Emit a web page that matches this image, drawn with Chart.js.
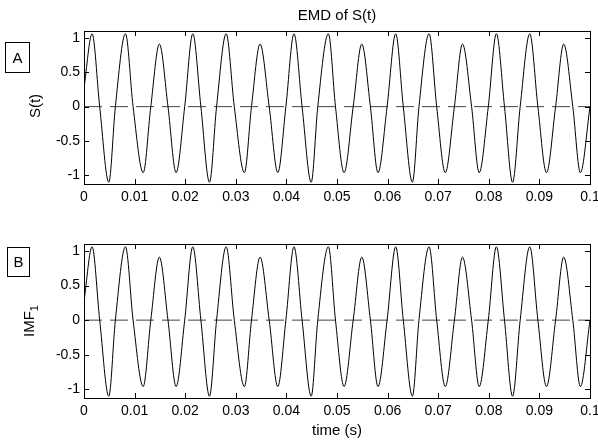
<!DOCTYPE html>
<html>
<head>
<meta charset="utf-8">
<script src="https://cdn.jsdelivr.net/npm/chart.js@4"></script>
<style>
  body { margin: 0; background: #fff; }
  #wrap { position: relative; width: 598px; height: 444px; background: #fff;
          font-family: "Liberation Sans", Arial, sans-serif; color: #000; }
  canvas { position: absolute; left: 0; top: 0; }
  .lbl { position: absolute; font-size: 15px; line-height: 18px; white-space: nowrap; }
  .rot { transform: translate(-50%, -50%) rotate(-90deg); }
  .box { position: absolute; border: 1px solid #000; font-size: 15px; text-align: center; box-sizing: border-box; }
</style>
</head>
<body>
<div id="wrap">
  <canvas id="chartS" width="598" height="444"></canvas>
  <canvas id="chartImf" width="598" height="444"></canvas>
  <div class="lbl" style="left:237px; top:6px; width:200px; text-align:center;">EMD of S(t)</div>
  <div class="lbl" style="left:237px; top:421px; width:200px; text-align:center;">time (s)</div>
  <div class="lbl rot" style="left:35px; top:106px;">S(t)</div>
  <div class="lbl rot" style="left:31px; top:321px;">IMF<sub style="font-size:11px;">1</sub></div>
  <div class="box" style="left:5px; top:42px; width:25px; height:31px; line-height:29px;">A</div>
  <div class="box" style="left:7px; top:247px; width:23px; height:30px; line-height:28px;">B</div>
</div>
<script>
// time axis (s) - extrema and zero crossings
const timeSec = [
  0,
  0.0016, 0.0031, 0.0049, 0.0062, 0.0082, 0.0097, 0.0117, 0.0132, 0.0149, 0.0166, 0.0182, 0.0199,
  0.0215, 0.0231, 0.0248, 0.0262, 0.0281, 0.0297, 0.0317, 0.0331, 0.0348, 0.0366, 0.0383, 0.0399,
  0.0415, 0.0431, 0.0449, 0.0462, 0.0483, 0.0497, 0.0514, 0.0532, 0.0549, 0.0566, 0.0581, 0.0599,
  0.0616, 0.0631, 0.0649, 0.0662, 0.0682, 0.0697, 0.0714, 0.0732, 0.0748, 0.0766, 0.0781, 0.0799,
  0.0815, 0.0831, 0.0847, 0.0862, 0.0881, 0.0897, 0.0914, 0.0932, 0.0948, 0.0966, 0.0981, 0.1
];

// S(t)
const signalS = [
  0.27,
  1.06, 0, -1.10, 0, 1.06, 0, -0.96, 0, 0.91, 0, -0.96, 0,
  1.06, 0, -1.10, 0, 1.06, 0, -0.96, 0, 0.91, 0, -0.96, 0,
  1.06, 0, -1.10, 0, 1.06, 0, -0.96, 0, 0.91, 0, -0.96, 0,
  1.06, 0, -1.10, 0, 1.06, 0, -0.96, 0, 0.91, 0, -0.96, 0,
  1.06, 0, -1.10, 0, 1.06, 0, -0.96, 0, 0.91, 0, -0.96, 0
];

// IMF1 (same shape as S(t) in the figure)
const imf1 = [
  0.27,
  1.06, 0, -1.10, 0, 1.06, 0, -0.96, 0, 0.91, 0, -0.96, 0,
  1.06, 0, -1.10, 0, 1.06, 0, -0.96, 0, 0.91, 0, -0.96, 0,
  1.06, 0, -1.10, 0, 1.06, 0, -0.96, 0, 0.91, 0, -0.96, 0,
  1.06, 0, -1.10, 0, 1.06, 0, -0.96, 0, 0.91, 0, -0.96, 0,
  1.06, 0, -1.10, 0, 1.06, 0, -0.96, 0, 0.91, 0, -0.96, 0
];

const xTicks = [0, 0.01, 0.02, 0.03, 0.04, 0.05, 0.06, 0.07, 0.08, 0.09, 0.1];
const yTicks = [-1, -0.5, 0, 0.5, 1];
const xRange = [0, 0.1];
const yRange = [-1.125, 1.1];

// MATLAB style frame with inward ticks on all four sides
const inwardTicks = {
  id: 'inwardTicks',
  afterDatasetsDraw(chart) {
    const { ctx, chartArea: a, scales: { x, y } } = chart;
    const len = 5;
    ctx.save();
    ctx.strokeStyle = '#000';
    ctx.lineWidth = 1;
    ctx.beginPath();
    x.ticks.forEach(t => {
      const px = Math.round(x.getPixelForValue(t.value)) + 0.5;
      ctx.moveTo(px, a.bottom); ctx.lineTo(px, a.bottom - len);
      ctx.moveTo(px, a.top); ctx.lineTo(px, a.top + len);
    });
    y.ticks.forEach(t => {
      const py = Math.round(y.getPixelForValue(t.value)) + 0.5;
      ctx.moveTo(a.left, py); ctx.lineTo(a.left + len, py);
      ctx.moveTo(a.right, py); ctx.lineTo(a.right - len, py);
    });
    ctx.stroke();
    ctx.strokeRect(Math.round(a.left) + 0.5, Math.round(a.top) + 0.5,
                   Math.round(a.width), Math.round(a.height));
    ctx.restore();
  }
};

function makePanel(id, values, top, bottom) {
  const ctx = document.getElementById(id);
  const tickFont = { family: '"Liberation Sans", Arial, sans-serif', size: 14 };

  new Chart(ctx, {
    type: 'line',
    data: {
      datasets: [
        {
          data: timeSec.map((t, i) => ({ x: t, y: values[i] })),
          borderColor: '#000',
          borderWidth: 1,
          pointRadius: 0,
          cubicInterpolationMode: 'monotone',
          fill: false
        },
        {
          data: xRange.map(t => ({ x: t, y: 0 })),
          borderColor: '#444',
          borderWidth: 1,
          borderDash: [18, 8],
          pointRadius: 0,
          fill: false
        }
      ]
    },
    options: {
      responsive: false,
      animation: false,
      layout: {
        padding: { left: 0, right: 8, top: top, bottom: 444 - bottom - 22 }
      },
      plugins: {
        legend: { display: false },
        tooltip: { enabled: false }
      },
      scales: {
        x: {
          type: 'linear',
          min: xRange[0],
          max: xRange[1],
          grid: { display: false, drawTicks: false },
          border: { display: false },
          afterBuildTicks: s => { s.ticks = xTicks.map(v => ({ value: v })); },
          afterFit: s => { s.height = 22; s.paddingLeft = 0; s.paddingRight = 0; },
          ticks: {
            color: '#000',
            font: tickFont,
            padding: 5,
            maxRotation: 0,
            autoSkip: false,
            callback: v => String(v)
          }
        },
        y: {
          min: yRange[0],
          max: yRange[1],
          grid: { display: false, drawTicks: false },
          border: { display: false },
          afterBuildTicks: s => { s.ticks = yTicks.map(v => ({ value: v })); },
          afterFit: s => { s.width = 84; s.paddingTop = 0; s.paddingBottom = 0; },
          ticks: {
            color: '#000',
            font: tickFont,
            padding: 4,
            autoSkip: false,
            callback: v => String(v)
          }
        }
      }
    },
    plugins: [inwardTicks]
  });
}

makePanel('chartS', signalS, 31, 184);
makePanel('chartImf', imf1, 244, 398);
</script>
</body>
</html>
